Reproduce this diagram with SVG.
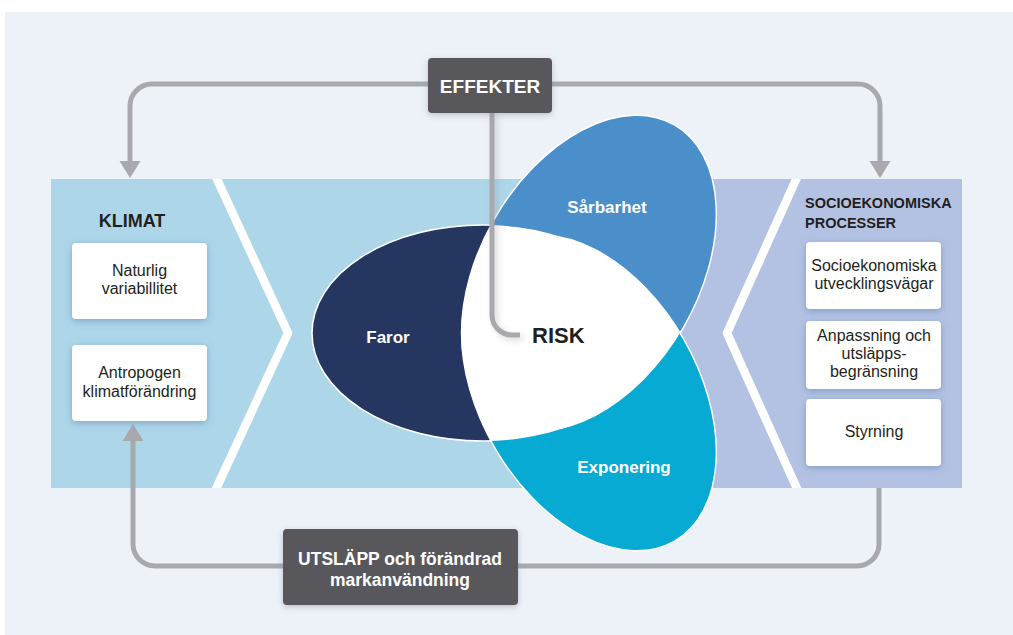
<svg xmlns="http://www.w3.org/2000/svg" width="1013" height="635" viewBox="0 0 1013 635">
<defs>
<style>
.box{fill:#fff;filter:url(#sh)}
.dbox{fill:#58595B;filter:url(#sh2)}
.t{font-family:"Liberation Sans",Arial,sans-serif;font-size:16px;fill:#231F20;text-anchor:middle}
.h{font-family:"Liberation Sans",Arial,sans-serif;font-weight:bold;fill:#231F20}
.w{font-family:"Liberation Sans",Arial,sans-serif;font-weight:bold;fill:#fff;text-anchor:middle}
.con{fill:none;stroke:#A7A9AC;stroke-width:5}
.chev{fill:none;stroke:#fff;stroke-width:8.5;stroke-linejoin:round}
.pet{stroke:#fff;stroke-width:1.5}
</style>
<filter id="sh" x="-20%" y="-20%" width="140%" height="150%">
<feGaussianBlur in="SourceAlpha" stdDeviation="3.5"/>
<feOffset dx="0" dy="2" result="b"/>
<feFlood flood-color="#5E7FA8" flood-opacity="0.55"/>
<feComposite in2="b" operator="in"/>
<feMerge><feMergeNode/><feMergeNode in="SourceGraphic"/></feMerge>
</filter>
<filter id="sh2" x="-20%" y="-20%" width="140%" height="150%">
<feGaussianBlur in="SourceAlpha" stdDeviation="3"/>
<feOffset dx="0" dy="2" result="b"/>
<feFlood flood-color="#7A869A" flood-opacity="0.45"/>
<feComposite in2="b" operator="in"/>
<feMerge><feMergeNode/><feMergeNode in="SourceGraphic"/></feMerge>
</filter>
<filter id="sh3" x="-50%" y="-10%" width="200%" height="130%">
<feGaussianBlur in="SourceAlpha" stdDeviation="3"/>
<feOffset dx="3" dy="3" result="b"/>
<feFlood flood-color="#8C8F96" flood-opacity="0.35"/>
<feComposite in2="b" operator="in"/>
<feMerge><feMergeNode/><feMergeNode in="SourceGraphic"/></feMerge>
</filter>
<marker id="arr" markerUnits="userSpaceOnUse" markerWidth="18" markerHeight="22" viewBox="0 0 18 22" refX="0" refY="11" orient="auto">
<path d="M0,0.5 L17,11 L0,21.5 z" fill="#A7A9AC"/>
</marker>
<ellipse id="eF" cx="483" cy="333" rx="171" ry="108"/>
<ellipse id="eS" cx="589" cy="273" rx="171" ry="109" transform="rotate(-60 589 273)"/>
<ellipse id="eE" cx="589" cy="393" rx="171" ry="109" transform="rotate(60 589 393)"/>
<clipPath id="cF"><use href="#eF"/></clipPath>
<clipPath id="cS"><use href="#eS"/></clipPath>
<clipPath id="cL"><rect x="51" y="179" width="620" height="309"/></clipPath>
<clipPath id="cR"><rect x="660" y="179" width="302" height="309"/></clipPath>
</defs>

<rect x="0" y="0" width="1013" height="635" fill="#fff"/>
<rect x="5" y="12" width="1008" height="623" fill="#EDF2F9"/>

<g id="panels">
<rect x="51" y="179" width="620" height="309" fill="#ADD6E9"/>
<rect x="660" y="179" width="302" height="309" fill="#B3C2E3"/>
<polyline class="chev" clip-path="url(#cL)" points="210,164 288,333 210,502"/>
<polyline class="chev" clip-path="url(#cR)" points="803,164 727,333 803,502"/>
</g>

<g id="risk">
<use href="#eF" class="pet" fill="#253761"/>
<use href="#eS" class="pet" fill="#4A8FCA"/>
<use href="#eE" class="pet" fill="#07AAD2"/>
<g fill="#fff">
<g clip-path="url(#cF)"><use href="#eS"/></g>
<g clip-path="url(#cF)"><use href="#eE"/></g>
<g clip-path="url(#cS)"><use href="#eE"/></g>
</g>
<text class="w" x="388" y="343" font-size="17">Faror</text>
<text class="w" x="607" y="213" font-size="17">Sårbarhet</text>
<text class="w" x="624" y="473" font-size="17">Exponering</text>
<text class="h" x="532" y="343" font-size="22">RISK</text>
</g>

<g id="connectors">
<path class="con" d="M430 84 H152 A22 22 0 0 0 130 106 V161" marker-end="url(#arr)"/>
<path class="con" d="M550 84 H858 A22 22 0 0 1 880 106 V161" marker-end="url(#arr)"/>
<path class="con" filter="url(#sh3)" d="M492 112 V315 A20 20 0 0 0 512 335 H520"/>
<path class="con" d="M285 566 H155 A22 22 0 0 1 133 544 V441" marker-end="url(#arr)"/>
<path class="con" d="M516 566 H857 A22 22 0 0 0 879 544 V488"/>
</g>

<g id="effekter">
<rect class="dbox" x="428" y="58" width="124" height="55" rx="4"/>
<text class="w" x="490" y="93" font-size="19">EFFEKTER</text>
</g>

<g id="utslapp">
<rect class="dbox" x="283" y="529" width="235" height="76" rx="4"/>
<text class="w" x="400" y="565" font-size="17.5">UTSLÄPP och förändrad</text>
<text class="w" x="400" y="586" font-size="17.5">markanvändning</text>
</g>

<g id="klimat">
<text class="h" x="132" y="227" font-size="18" text-anchor="middle">KLIMAT</text>
</g>
<g id="naturlig">
<rect class="box" x="72" y="243" width="135" height="76" rx="4"/>
<text class="t" x="139.5" y="276">Naturlig</text>
<text class="t" x="139.5" y="294">variabillitet</text>
</g>
<g id="antropogen">
<rect class="box" x="72" y="345" width="135" height="76" rx="4"/>
<text class="t" x="139.5" y="378">Antropogen</text>
<text class="t" x="139.5" y="397">klimatförändring</text>
</g>

<g id="socio">
<text class="h" x="805" y="208" font-size="14.5">SOCIOEKONOMISKA</text>
<text class="h" x="805" y="228" font-size="14.5">PROCESSER</text>
</g>
<g id="utveckling">
<rect class="box" x="806" y="242" width="135" height="67" rx="4"/>
<text class="t" x="874" y="271">Socioekonomiska</text>
<text class="t" x="874" y="289">utvecklingsvägar</text>
</g>
<g id="anpassning">
<rect class="box" x="806" y="321" width="135" height="68" rx="4"/>
<text class="t" x="874" y="341">Anpassning och</text>
<text class="t" x="874" y="359">utsläpps-</text>
<text class="t" x="874" y="377">begränsning</text>
</g>
<g id="styrning">
<rect class="box" x="806" y="399" width="135" height="67" rx="4"/>
<text class="t" x="874" y="437">Styrning</text>
</g>
</svg>
